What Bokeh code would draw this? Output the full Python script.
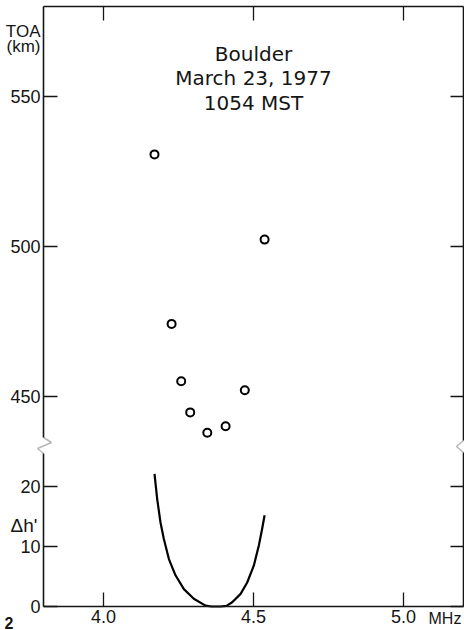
from bokeh.plotting import figure
from bokeh.models import Range1d, LinearAxis, FixedTicker, Label, PolyAnnotation
from bokeh.core.properties import value
from bokeh.embed import file_html
from bokeh.resources import INLINE

# ---------------- data ----------------
toa_freq = [4.170, 4.537, 4.227, 4.259, 4.471, 4.289, 4.407, 4.346]   # MHz
toa_km = [530.7, 502.3, 474.2, 455.1, 452.1, 444.7, 440.1, 437.9]     # km

curve_freq = [4.170, 4.179, 4.190, 4.201, 4.218, 4.240, 4.268, 4.301, 4.340,
              4.360, 4.390, 4.410, 4.429, 4.457, 4.479, 4.501, 4.518, 4.529, 4.537]
curve_dh = [22.1, 17.9, 14.0, 11.3, 7.9, 5.2, 2.9, 1.3, 0.15,
            0.0, 0.0, 0.1, 0.7, 2.1, 4.0, 6.8, 10.2, 13.0, 15.2]

freq_ticks = [4.0, 4.5, 5.0]
freq_labels = ["4.0", "4.5", "5.0"]
toa_ticks = [450, 500, 550]
dh_ticks = [0, 10, 20]
title_lines = ["Boulder", "March 23, 1977", "1054 MST"]

# ---------------- scales ----------------
# plotting box: x 3.8..5.2 MHz ; lower scale dh 0..100 ; upper scale TOA 380..580 km
X0, X1 = 3.8, 5.2
DH0, DH1 = 0.0, 100.0
TOA0, TOA1 = 380.0, 580.0
PX_PER_MHZ = 300.0
PX_PER_DH = 6.0
PX_PER_KM = 3.0
BOX_LEFT, BOX_BOTTOM = 43, 606
W, H = 464, 630

x_lo = X0 - BOX_LEFT / PX_PER_MHZ
x_hi = x_lo + W / PX_PER_MHZ
dh_lo = DH0 - (H - BOX_BOTTOM) / PX_PER_DH
dh_hi = dh_lo + H / PX_PER_DH
toa_lo = TOA0 - (H - BOX_BOTTOM) / PX_PER_KM
toa_hi = toa_lo + H / PX_PER_KM

FONT = "Liberation Sans"
INK = "#151515"


def toa_to_dh(v):
    return DH0 + (v - TOA0) * (DH1 - DH0) / (TOA1 - TOA0)


def px_x(px):
    return x_lo + px / PX_PER_MHZ


def px_dh(py):
    return dh_lo + (H - py) / PX_PER_DH


def px_toa(py):
    return toa_lo + (H - py) / PX_PER_KM


p = figure(width=W, height=H, x_range=Range1d(x_lo, x_hi), y_range=Range1d(dh_lo, dh_hi),
           output_backend="svg", toolbar_location=None,
           min_border_left=0, min_border_right=0, min_border_top=0, min_border_bottom=0,
           x_axis_location=None, y_axis_location=None)
p.extra_y_ranges = {"toa": Range1d(toa_lo, toa_hi)}
p.outline_line_color = None
p.grid.visible = False
p.background_fill_color = "white"
p.border_fill_color = "white"

left_ticks = dh_ticks + [toa_to_dh(v) for v in toa_ticks]
left_labels = {t: str(t) for t in dh_ticks}
left_labels.update({toa_to_dh(v): str(v) for v in toa_ticks})


def make_axis(ticks, bounds, loc, labels=None):
    ax = LinearAxis(ticker=FixedTicker(ticks=ticks), bounds=bounds, fixed_location=loc)
    ax.axis_line_color = INK
    ax.axis_line_width = 1.6
    ax.major_tick_line_color = INK
    ax.major_tick_line_width = 1.3
    ax.major_tick_in = 14
    ax.major_tick_out = 0
    ax.minor_tick_line_color = None
    if labels is None:
        ax.major_label_overrides = {t: "" for t in ticks}
    else:
        ax.major_label_overrides = labels
        ax.major_label_text_font = FONT
        ax.major_label_text_font_size = "18px"
        ax.major_label_text_color = INK
        ax.major_label_standoff = 3
    return ax


p.add_layout(make_axis(freq_ticks, (X0, X1), DH0, dict(zip(freq_ticks, freq_labels))), "below")
p.add_layout(make_axis(left_ticks, (DH0, DH1), X0, left_labels), "left")
p.add_layout(make_axis(freq_ticks, (X0, X1), DH1), "above")
right_ax = make_axis(left_ticks, (DH0, DH1), X1)
right_ax.major_tick_in = 13
p.add_layout(right_ax, "right")

# ---------------- marks ----------------
p.line(curve_freq, curve_dh, line_width=2.2, line_color="black", line_join="round")
p.scatter(toa_freq, toa_km, y_range_name="toa", marker="circle", size=8,
          fill_color="white", line_color="black", line_width=2)

title_y = [px_toa(53), px_toa(77), px_toa(102)]
p.text(x=[4.5] * 3, y=title_y, text=title_lines, y_range_name="toa",
       text_font=value("DejaVu Sans"), text_font_size="20px", text_color=INK,
       text_align="center", text_baseline="alphabetic")

# ---------------- axis break marks ----------------
yb = [px_dh(437), px_dh(442), px_dh(448), px_dh(453)]
p.add_layout(PolyAnnotation(xs=[px_x(40), px_x(46), px_x(46), px_x(40)],
                            ys=[yb[0], yb[0], yb[3], yb[3]],
                            fill_color="white", fill_alpha=1, line_color=None))
p.add_layout(PolyAnnotation(xs=[px_x(43), px_x(51), px_x(37), px_x(43), px_x(37), px_x(51)],
                            ys=[yb[0], yb[1], yb[2], yb[3], yb[2], yb[1]],
                            fill_alpha=0, line_color=INK, line_width=1.5))
yr = [px_dh(440), px_dh(446), px_dh(452)]
p.add_layout(PolyAnnotation(xs=[px_x(459), px_x(464), px_x(464), px_x(459)],
                            ys=[yr[0], yr[0], yr[2], yr[2]],
                            fill_color="white", fill_alpha=1, line_color=None))
p.add_layout(PolyAnnotation(xs=[px_x(463), px_x(456), px_x(463), px_x(456)],
                            ys=[yr[0], yr[1], yr[2], yr[1]],
                            fill_alpha=0, line_color=INK, line_width=1.5))

# ---------------- texts ----------------
def label(px, py, text, align="right", baseline="alphabetic", size="18px", style="normal"):
    p.add_layout(Label(x=px_x(px), y=px_dh(py), text=text, text_align=align,
                       text_baseline=baseline, text_font=FONT, text_font_size=size,
                       text_font_style=style, text_color=INK))


label(40, 31, "TOA", size="17px")
label(40, 46, "(km)", size="17px")
label(37, 525, "\u0394h'", size="19px")
label(428, 609, "MHz", align="left", baseline="top", size="16px")
label(4, 622, "2", align="left", size="16px", style="bold")

open("out.html", "w").write(file_html(p, INLINE))
